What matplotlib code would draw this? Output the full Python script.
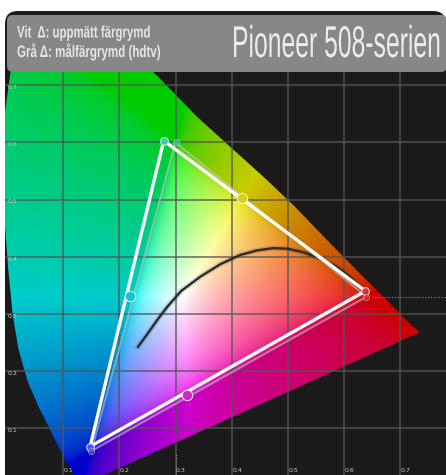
import numpy as np
import matplotlib
matplotlib.use("Agg")
import matplotlib.pyplot as plt
from matplotlib.patches import FancyBboxPatch, Polygon
from matplotlib.patheffects import AbstractPathEffect
from matplotlib.transforms import Affine2D

# ---------------- data ----------------
title = "Pioneer 508-serien"
legend_lines = ["Vit  \u0394: uppm\u00e4tt f\u00e4rgrymd", "Gr\u00e5 \u0394: m\u00e5lf\u00e4rgrymd (hdtv)"]

grid_vals = [0.1, 0.2, 0.3, 0.4, 0.5, 0.6, 0.7]
tick_labels = ["0.1", "0.2", "0.3", "0.4", "0.5", "0.6", "0.7"]

# spectral locus outline (as drawn in the picture)
locus_x = [0.132, 0.120, 0.103, 0.077, 0.055, 0.036, 0.020, 0.010, 0.002, -0.004, -0.004,
           -0.004, 0.010, 0.080, 0.160, 0.230, 0.270, 0.338, 0.463, 0.513, 0.575, 0.627,
           0.666, 0.692, 0.719, 0.735]
locus_y = [0.000, 0.018, 0.045, 0.097, 0.140, 0.184, 0.240, 0.300, 0.380, 0.460, 0.550,
           0.650, 0.750, 0.830, 0.800, 0.750, 0.714, 0.645, 0.534, 0.487, 0.424, 0.372,
           0.334, 0.308, 0.281, 0.268]

# target gamut (hdtv, grey) and measured gamut (white): R, G, B
target_x = [0.640, 0.300, 0.150]
target_y = [0.330, 0.600, 0.060]
measured_x = [0.638, 0.279, 0.148]
measured_y = [0.340, 0.603, 0.068]

# measured secondaries: cyan, yellow, magenta
sec_x = [0.219, 0.418, 0.320]
sec_y = [0.332, 0.503, 0.158]
sec_colors = ["#19c4cc", "#d8d21a", "#d028c8"]

# black-body curve
planck_x = [0.233, 0.250, 0.268, 0.285, 0.310, 0.344, 0.380, 0.415, 0.445, 0.474,
            0.500, 0.527, 0.558, 0.587, 0.610, 0.628, 0.640]
planck_y = [0.242, 0.265, 0.290, 0.312, 0.340, 0.365, 0.387, 0.403, 0.411, 0.415,
            0.414, 0.408, 0.397, 0.382, 0.365, 0.347, 0.338]

# ---------------- figure ----------------
W, H = 446, 475
fig = plt.figure(figsize=(W / 100, H / 100), dpi=100, facecolor="white")

# background axes in pixel coordinates
bg = fig.add_axes([0, 0, 1, 1], zorder=0)
bg.set_xlim(0, W)
bg.set_ylim(H, 0)
bg.axis("off")
bg.add_patch(FancyBboxPatch((5, 11), 441, 474, boxstyle="round,pad=0,rounding_size=13",
                            facecolor="#1a1a1a", edgecolor="none"))

# main chart axes
px_x0, px_sx = 7.0, 561.7
px_y0, px_sy = 485.4, 571.7
ax_left_px, ax_right_px, ax_top_px, ax_bot_px = 5, 446, 72, 475
ax = fig.add_axes([ax_left_px / W, (H - ax_bot_px) / H,
                   (ax_right_px - ax_left_px) / W, (ax_bot_px - ax_top_px) / H], zorder=1)
xmin = (ax_left_px - px_x0) / px_sx
xmax = (ax_right_px - px_x0) / px_sx
ymin = (px_y0 - ax_bot_px) / px_sy
ymax = (px_y0 - ax_top_px) / px_sy
ax.set_xlim(xmin, xmax)
ax.set_ylim(ymin, ymax)
ax.set_facecolor("#1a1a1a")
for s in ax.spines.values():
    s.set_visible(False)
ax.set_xticks([])
ax.set_yticks([])

# chromaticity colour fill
n = 500
gx = np.linspace(xmin, xmax, n)
gy = np.linspace(ymin, ymax, n)
XX, YY = np.meshgrid(gx, gy)
YYs = np.clip(YY, 1e-3, None)
Xc = XX / YYs
Yc = np.ones_like(XX)
Zc = (1 - XX - YY) / YYs
M = np.array([[3.2406, -1.5372, -0.4986],
              [-0.9689, 1.8758, 0.0415],
              [0.0557, -0.2040, 1.0570]])
rgb = np.stack([M[i, 0] * Xc + M[i, 1] * Yc + M[i, 2] * Zc for i in range(3)], axis=-1)
rgb = np.clip(rgb, 0, None)
rgb = rgb / np.clip(rgb.max(axis=-1, keepdims=True), 1e-6, None)
rgb = np.where(rgb <= 0.0031308, 12.92 * rgb, 1.055 * np.power(rgb, 1 / 2.4) - 0.055)
rgb = np.clip(rgb, 0, 1)
sat = 1 - rgb.min(axis=-1, keepdims=True) / np.clip(rgb.max(axis=-1, keepdims=True), 1e-6, None)
rgb = rgb * (1 - 0.2 * sat ** 4)
img = ax.imshow(rgb, origin="lower", extent=(xmin, xmax, ymin, ymax),
                interpolation="bilinear", aspect="auto", zorder=1)
locus_poly = Polygon(np.column_stack([locus_x, locus_y]), closed=True,
                     facecolor="none", edgecolor="none", transform=ax.transData)
ax.add_patch(locus_poly)
img.set_clip_path(locus_poly)

# grid
for v in grid_vals:
    ax.axvline(v, color="#555555", lw=1.3, alpha=0.75, zorder=2)
    ax.axhline(v, color="#555555", lw=1.3, alpha=0.75, zorder=2)

# dotted guide lines
ax.plot([target_x[0] + 0.01, xmax], [target_y[0], target_y[0]], color="#8a8a8a",
        lw=0.8, ls=(0, (1, 1.5)), zorder=2)
ax.plot([target_x[1], target_x[1]], [ymin, 0.055], color="#8a8a8a",
        lw=0.8, ls=(0, (1, 1.5)), zorder=2)

# tick labels
for v, lab in zip(grid_vals, tick_labels):
    ax.text(0.002, v - 0.004, lab, fontsize=4.5, color="#c8c8c8", ha="left", va="center", zorder=6)
    ax.text(v + 0.001, (px_y0 - 468) / px_sy, lab, fontsize=4.5, color="#c8c8c8",
            ha="left", va="top", zorder=6)

# black-body curve
ax.plot(planck_x, planck_y, color="black", lw=4, alpha=0.12, zorder=3,
        solid_capstyle="round")
ax.plot(planck_x, planck_y, color="#2b2b2b", lw=1.7, zorder=3, solid_capstyle="round")

# target (grey) triangle
ax.plot(target_x + [target_x[0]], target_y + [target_y[0]], color="#c4c4c4", lw=1.5,
        alpha=0.6, zorder=4, solid_joinstyle="round")
# measured (white) triangle
ax.plot(measured_x + [measured_x[0]], measured_y + [measured_y[0]], color="white", lw=2.4,
        zorder=4, solid_joinstyle="round")

# vertex markers
vert_cols = ["#e02020", "#20c8a0", "#4040ff"]
for x, y, c in zip(measured_x, measured_y, vert_cols):
    ax.plot([x], [y], "o", ms=5.5, mfc=c, mec="#e8e8e8", mew=0.8, alpha=0.9, zorder=5)
for x, y, c in zip(target_x, target_y, vert_cols):
    ax.plot([x], [y], "o", ms=4.5, mfc=c, mec="#bdbdbd", mew=0.6, alpha=0.7, zorder=5)
for x, y, c in zip(sec_x, sec_y, sec_colors):
    ax.plot([x], [y], "o", ms=7.5, mfc=c, mec="#f0f0f0", mew=0.7, zorder=5)

# ---------------- header ----------------
hd = fig.add_axes([0, 0, 1, 1], zorder=2)
hd.set_xlim(0, W)
hd.set_ylim(H, 0)
hd.axis("off")
hd.patch.set_visible(False)
hd.add_patch(FancyBboxPatch((7, 15), 440, 57, boxstyle="round,pad=0,rounding_size=6",
                            facecolor="#878787", edgecolor="none"))


class TallText(AbstractPathEffect):
    """Stretch glyphs vertically about the baseline (gives a condensed look)."""
    def __init__(self, sy=1.0):
        super().__init__()
        self.sy = sy

    def draw_path(self, renderer, gc, tpath, affine, rgbFace=None):
        renderer.draw_path(gc, tpath, Affine2D().scale(1.0, self.sy) + affine, rgbFace)


base_title, base_leg = 32, 12
t_title = hd.text(232, 57, title, fontsize=base_title, family="Liberation Sans",
                  color="#ececec", ha="left", va="baseline")
t_l1 = hd.text(17, 37.5, legend_lines[0], fontsize=base_leg, family="Liberation Sans",
               color="#e6e6e6", ha="left", va="baseline", weight="bold")
t_l2 = hd.text(17, 57, legend_lines[1], fontsize=base_leg, family="Liberation Sans",
               color="#e6e6e6", ha="left", va="baseline", weight="bold")

fig.canvas.draw()
r = fig.canvas.get_renderer()
for t, base, target_w in [(t_title, base_title, 209), (t_l1, base_leg, 133),
                          (t_l2, base_leg, 143)]:
    w = t.get_window_extent(r).width
    new_size = base * target_w / w
    t.set_fontsize(new_size)
    t.set_path_effects([TallText(base / new_size)])

fig.savefig("out.png", dpi=100, facecolor="white")
